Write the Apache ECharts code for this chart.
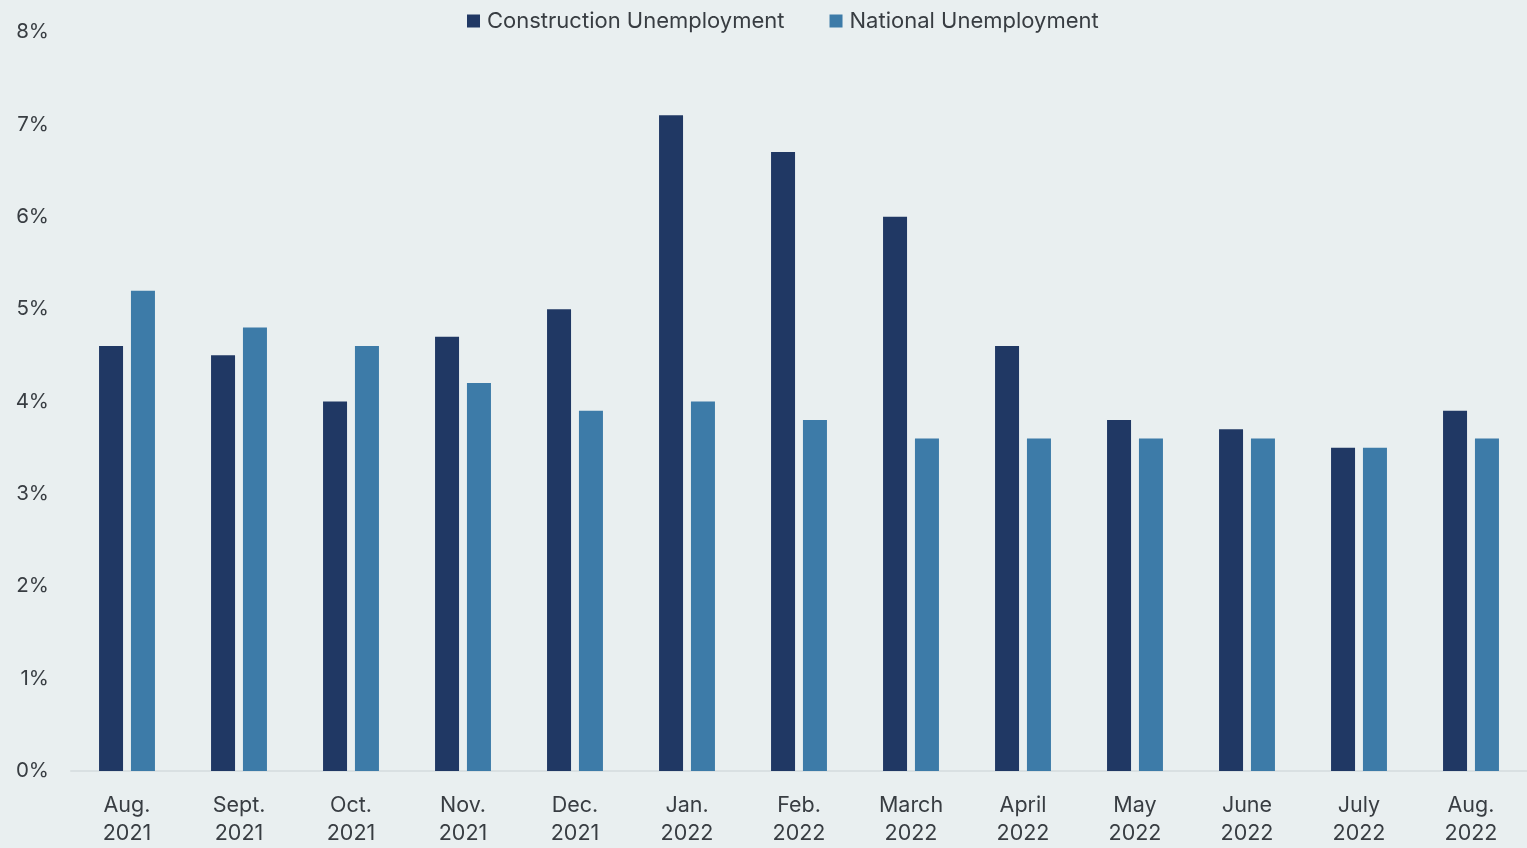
<!DOCTYPE html>
<html>
<head>
<meta charset="utf-8">
<style>
  html, body { margin: 0; padding: 0; background: #e9eff0; overflow: hidden; }
  #chart { width: 1527px; height: 848px; }
</style>
<script src="https://cdn.jsdelivr.net/npm/echarts@6/dist/echarts.min.js"></script>
</head>
<body>
<div id="chart"></div>
<script>
// Monthly unemployment rates, Aug. 2021 – Aug. 2022 (percent)
const months = ['Aug.\n2021', 'Sept.\n2021', 'Oct.\n2021', 'Nov.\n2021', 'Dec.\n2021',
  'Jan.\n2022', 'Feb.\n2022', 'March\n2022', 'April\n2022', 'May\n2022',
  'June\n2022', 'July\n2022', 'Aug.\n2022'];
const construction = [4.6, 4.5, 4.0, 4.7, 5.0, 7.1, 6.7, 6.0, 4.6, 3.8, 3.7, 3.5, 3.9];
const national = [5.2, 4.8, 4.6, 4.2, 3.9, 4.0, 3.8, 3.6, 3.6, 3.6, 3.6, 3.5, 3.6];
const seriesNames = ['Construction Unemployment', 'National Unemployment'];

const FONT = 'Inter, Roboto, sans-serif';
const TEXT = '#383d42';

const chart = echarts.init(document.getElementById('chart'), null, { renderer: 'canvas', width: 1527, height: 848 });
chart.setOption({
  backgroundColor: '#e9eff0',
  animation: false,
  legend: {
    left: 462,
    top: 5,
    itemWidth: 13,
    itemHeight: 13,
    itemGap: 45,
    icon: 'rect',
    textStyle: { fontFamily: FONT, fontSize: 22, color: TEXT, padding: [0, 0, 0, 2] },
    data: seriesNames
  },
  grid: { left: 71, width: 1456, top: 32, height: 743, containLabel: false },
  xAxis: {
    type: 'category',
    data: months,
    axisLine: { show: true, lineStyle: { color: '#d9e0e2', width: 2 } },
    axisTick: { show: false },
    axisLabel: {
      fontFamily: FONT, fontSize: 21.5, color: TEXT,
      lineHeight: 28, margin: 21, interval: 0
    }
  },
  yAxis: {
    type: 'value',
    min: 0, max: 8, interval: 1,
    axisLine: { show: false },
    axisTick: { show: false },
    splitLine: { show: false },
    axisLabel: {
      fontFamily: FONT, fontSize: 20.5, color: TEXT, margin: 22,
      formatter: v => v + '%'
    }
  },
  series: [
    {
      name: seriesNames[0], type: 'bar', data: construction,
      barWidth: 24, barGap: '33%',
      itemStyle: { color: '#203864' }
    },
    {
      name: seriesNames[1], type: 'bar', data: national,
      barWidth: 24,
      itemStyle: { color: '#3d7ba8' }
    }
  ]
});
</script>
</body>
</html>
